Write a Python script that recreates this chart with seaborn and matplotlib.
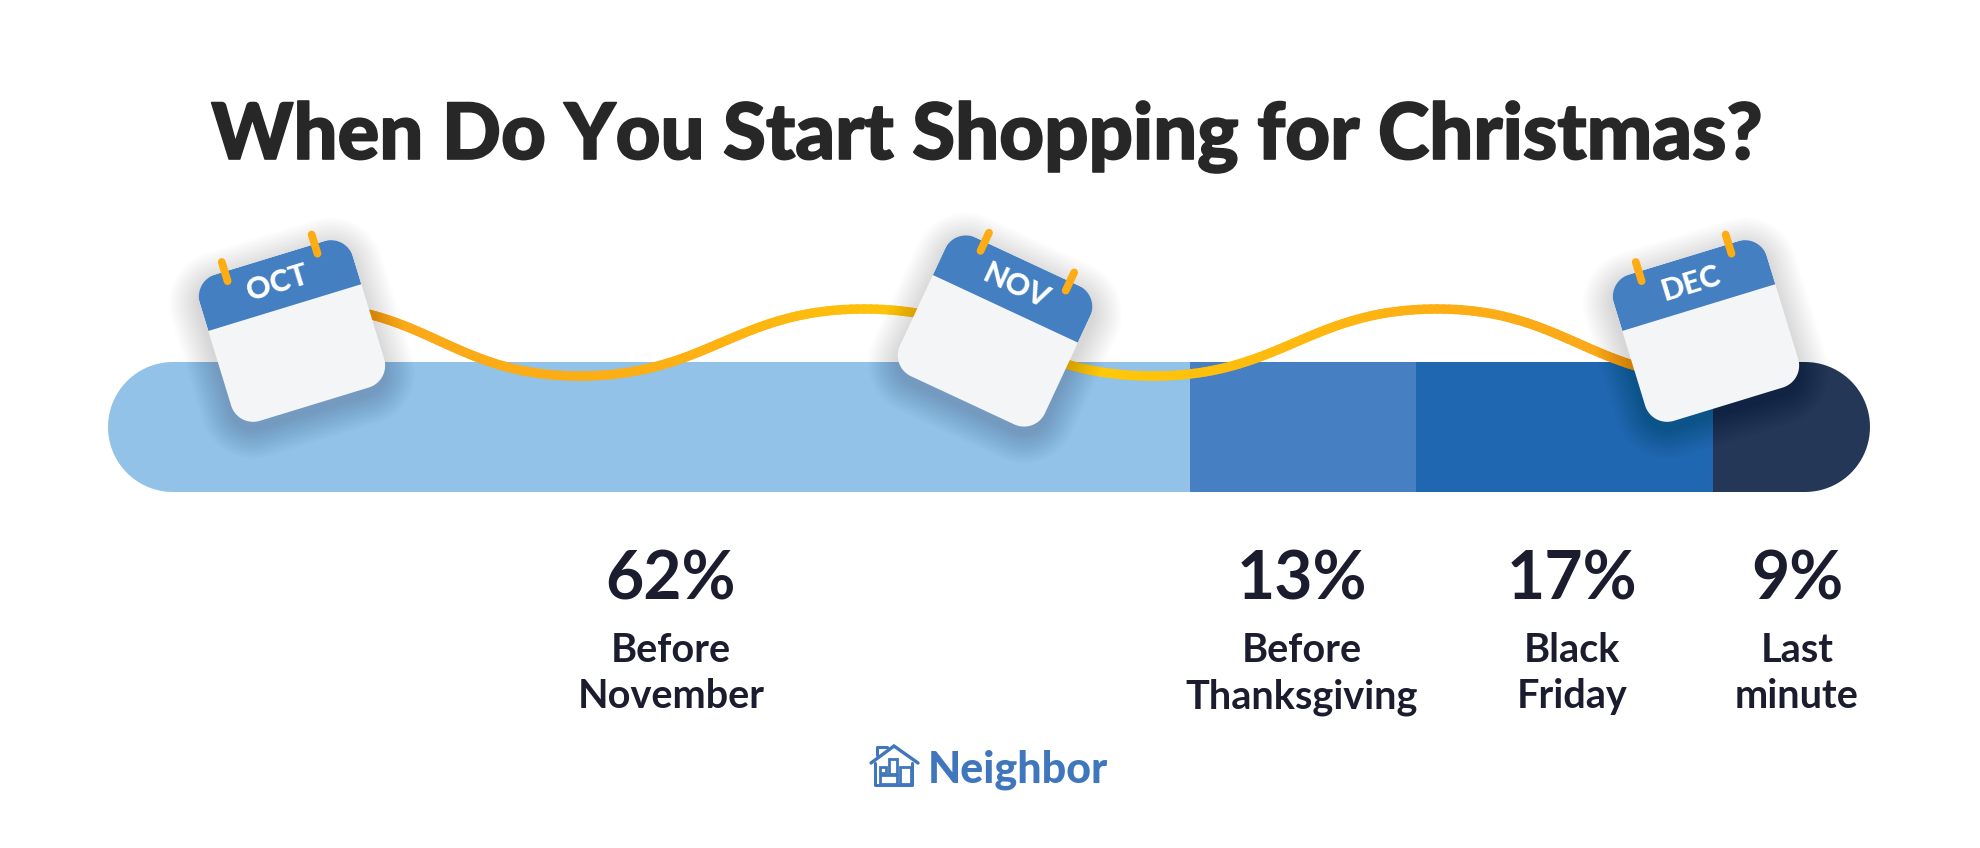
import numpy as np
import pandas as pd
import matplotlib
matplotlib.use("Agg")
import matplotlib.pyplot as plt
import matplotlib.patheffects as pe
import seaborn as sns
from matplotlib.collections import LineCollection
from matplotlib.colors import LinearSegmentedColormap
from matplotlib.patches import PathPatch, Rectangle
from matplotlib.path import Path
from matplotlib.transforms import Affine2D

TITLE = "When Do You Start Shopping for Christmas?"
segments = ["Before\nNovember", "Before\nThanksgiving", "Black\nFriday", "Last\nminute"]
shares = [62, 13, 17, 9]
bar_colors = ["#92C2E8", "#4680C2", "#2067B2", "#243757"]
label_centres = [671, 1302, 1572, 1797]
months = ["OCT", "NOV", "DEC"]
month_centres = [(292, 331), (995, 331), (1706, 331)]
month_angles = [-17, 25, -17]

FONT = ["Lato", "DejaVu Sans"]
W, H = 1980, 848
BAR_L, BAR_R, BAR_T, BAR_B = 108, 1870, 362, 492
INK = "#1B1D2E"
RING = "#FDAC13"

sns.set_theme(style="white")
plt.rcParams["font.family"] = FONT

fig = plt.figure(figsize=(W / 100, H / 100), dpi=100, facecolor="white")

# Stacked bar on a percentage axis spanning the whole figure
ax = fig.add_axes([0, 0, 1, 1])
lefts = np.concatenate([[0], np.cumsum(shares)[:-1]])
for seg, val, left, col in zip(segments, shares, lefts, bar_colors):
    frame = pd.DataFrame({"share": [val], "row": ["all"]})
    sns.barplot(data=frame, x="share", y="row", left=left, color=col, saturation=1,
                width=1, orient="h", ax=ax)
per_pct = (BAR_R - BAR_L) / sum(shares)
ax.set_xlim(-BAR_L / per_pct, (W - BAR_L) / per_pct)
row_h = BAR_B - BAR_T
ax.set_ylim(-0.5 + (H - BAR_T) / row_h, -0.5 - BAR_T / row_h)
ax.axis("off")

# Overlay in figure pixels for the decoration
px = fig.add_axes([0, 0, 1, 1], zorder=3)
px.set_xlim(0, W)
px.set_ylim(H, 0)
px.axis("off")
px.patch.set_alpha(0)


def rounded_path(x, y, w, h, r):
    """Rounded rectangle outline with true circular corners."""
    corners = [(x + r, y + r, 180), (x + w - r, y + r, 270), (x + w - r, y + h - r, 0), (x + r, y + h - r, 90)]
    verts = []
    for cx, cy, start in corners:
        a = np.radians(np.linspace(start, start + 90, 24))
        verts.append(np.column_stack([cx + r * np.cos(a), cy + r * np.sin(a)]))
    verts = np.vstack(verts + [verts[0][:1]])
    return Path(verts, closed=True)


pill = PathPatch(rounded_path(BAR_L, BAR_T, BAR_R - BAR_L, row_h, 65), transform=px.transData)
for bar in ax.patches:
    bar.set_clip_path(pill)
    bar.set_edgecolor("none")

# Wavy gradient ribbon running behind the calendars
knots = [(300, 306), (579, 376), (864, 309), (1153, 376), (1437, 309), (1720, 378)]
t = np.linspace(0, 1, 60)[:, None]
wave = []
for (x0, y0), (x1, y1) in zip(knots[:-1], knots[1:]):
    p0, p3 = np.array([x0, y0]), np.array([x1, y1])
    dx = (x1 - x0) * 0.45
    p1, p2 = p0 + [dx, 0], p3 - [dx, 0]
    wave.append((1 - t) ** 3 * p0 + 3 * (1 - t) ** 2 * t * p1 + 3 * (1 - t) * t ** 2 * p2 + t ** 3 * p3)
wave = np.vstack(wave)
pairs = np.stack([wave[:-1], wave[1:]], axis=1)
cmap = LinearSegmentedColormap.from_list(
    "ribbon", [(0, "#FAA61A"), (0.3, "#FDB212"), (0.5, "#FFD005"), (0.62, "#FFC20B"), (0.8, "#FDAF14"), (1, "#F9A51B")])
ribbon = LineCollection(pairs, cmap=cmap, linewidths=6.8, capstyle="round", zorder=2)
ribbon.set_array((pairs[:, 0, 0] - 300) / (1720 - 300))
px.add_collection(ribbon)


def calendar(label, cx, cy, angle):
    w, h, r, head = 160, 153, 23, 52
    place = Affine2D().rotate_deg(angle).translate(cx, cy) + px.transData
    screen_drop = Affine2D().translate(0, 7) + px.transData
    for k in range(20):
        grow = 30 - k * 1.5
        outline = rounded_path(-w / 2 - grow, -h / 2 - grow, w + 2 * grow, h + 2 * grow, r + grow)
        outline = outline.transformed(Affine2D().rotate_deg(angle).translate(cx, cy))
        px.add_patch(PathPatch(outline, fc="black", ec="none", alpha=0.006,
                               transform=screen_drop, zorder=4))
    outline = rounded_path(-w / 2, -h / 2, w, h, r)
    px.add_patch(PathPatch(outline, fc="#F4F5F7", ec="none", transform=place, zorder=5))
    band = Rectangle((-w / 2, -h / 2), w, head, fc="#447FC1", ec="none", transform=place, zorder=6)
    px.add_patch(band)
    band.set_clip_path(PathPatch(outline, transform=place))
    for rx in (-47, 47):
        px.plot([rx, rx], [-h / 2 - 10, -h / 2 + 10], color=RING, lw=5.6, solid_capstyle="round",
                transform=place, zorder=7)
    pos = Affine2D().rotate_deg(angle).translate(cx, cy).transform((0, -h / 2 + 27))
    px.text(pos[0], pos[1], label, color="white", fontsize=22, fontweight="black", ha="center", va="center",
            rotation=-angle, rotation_mode="anchor", zorder=8)


for label, (cx, cy), angle in zip(months, month_centres, month_angles):
    calendar(label, cx, cy, angle)

px.text(987, 159, TITLE, color="#272727", fontsize=56, fontweight="black", ha="center", va="baseline",
        path_effects=[pe.withStroke(linewidth=1.2, foreground="#272727")])

for x, val, seg in zip(label_centres, shares, segments):
    px.text(x, 599, f"{val}%", color=INK, fontsize=47.5, fontweight="bold", ha="center", va="baseline")
    first, second = seg.split("\n")
    px.text(x, 662, first, color=INK, fontsize=28.5, fontweight="bold", ha="center", va="baseline")
    px.text(x, 708, second, color=INK, fontsize=28.5, fontweight="bold", ha="center", va="baseline")

# Brand mark and wordmark
BLUE = "#3F76BC"
px.plot([871, 894, 918], [763, 746, 763], color=BLUE, lw=2.4, solid_joinstyle="miter", zorder=2)
px.plot([877, 877, 887], [755, 747, 747], color=BLUE, lw=2.2, zorder=2)
px.plot([875, 875, 912, 912], [763, 785, 785, 763], color=BLUE, lw=2.2, zorder=2)
for x, y, w, h in [(880, 767, 6, 6), (889, 759, 8, 15), (900, 767, 11, 17), (880, 775, 17, 9)]:
    px.add_patch(Rectangle((x, y), w, h, fc="none", ec=BLUE, lw=2.0, zorder=2))
px.text(928, 783, "Neighbor", color=BLUE, fontsize=31, fontweight="black", ha="left", va="baseline")

fig.savefig("out.png", dpi=100, facecolor="white")
